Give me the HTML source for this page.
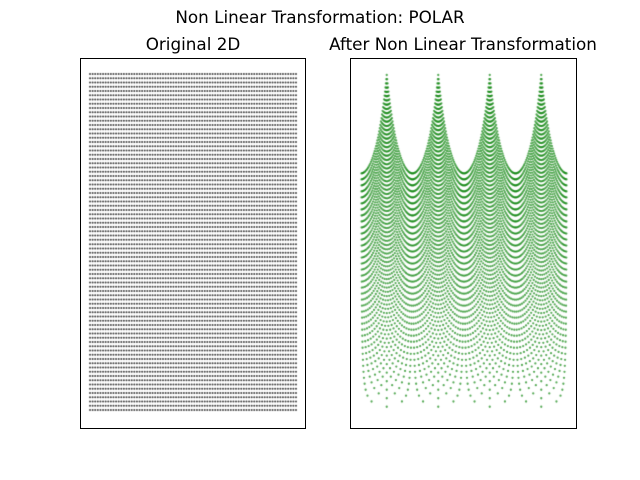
<!DOCTYPE html>
<html><head><meta charset="utf-8"><style>
body{margin:0;background:#fff;width:640px;height:480px;overflow:hidden;font-family:"DejaVu Sans","Liberation Sans",sans-serif}
.t{position:absolute;font-size:16.8px;line-height:20px;color:#000;white-space:nowrap;transform:translateX(-50%)}
canvas{position:absolute;left:0;top:0}
.ax{position:absolute;border:1px solid #000;box-sizing:border-box}
</style></head><body>
<div class="t" style="left:320px;top:7px">Non Linear Transformation: POLAR</div>
<div class="t" style="left:193px;top:34px">Original 2D</div>
<div class="t" style="left:463px;top:34px">After Non Linear Transformation</div>
<canvas id="c" width="640" height="480"></canvas>
<div class="ax" style="left:80px;top:58px;width:226px;height:371px"></div>
<div class="ax" style="left:350px;top:58px;width:227px;height:371px"></div>
<script>
const gridRange=[-1,1];
const gridCount=[80,80];
const ctx=document.getElementById('c').getContext('2d');
const xs=[],ys=[];
for(let i=0;i<gridCount[0];i++)xs.push(gridRange[0]+(gridRange[1]-gridRange[0])*i/(gridCount[0]-1));
for(let j=0;j<gridCount[1];j++)ys.push(gridRange[0]+(gridRange[1]-gridRange[0])*j/(gridCount[1]-1));
const lx=v=>90+(v+1)/2*206, ly=v=>410-(v+1)/2*336;
ctx.fillStyle='rgba(0,0,0,0.75)';
for(const x of xs)for(const y of ys){ctx.beginPath();ctx.arc(lx(x),ly(y),1,0,7);ctx.fill();}
const rmax=Math.SQRT2;
const rx=t=>361+(t+Math.PI)/(2*Math.PI)*206, ry=r=>411-r/rmax*336;
ctx.fillStyle='rgba(0,128,0,0.65)';
for(const x of xs)for(const y of ys){const r=Math.hypot(x,y),t=Math.atan2(y,x);ctx.beginPath();ctx.arc(rx(t),ry(r),1.15,0,7);ctx.fill();}
</script>
</body></html>
